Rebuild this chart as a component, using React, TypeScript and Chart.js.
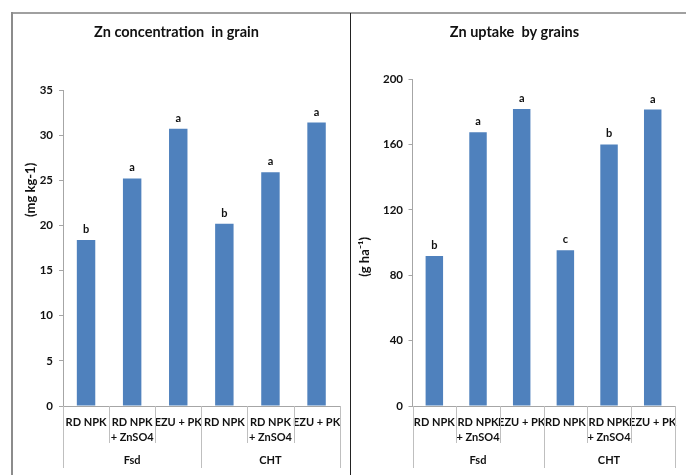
import React, { useEffect, useRef } from 'react';
import { Chart, registerables } from 'chart.js';

Chart.register(...registerables);

// ---- data ----
const categoryLabels: string[][] = [
  ['RD NPK'],
  ['RD NPK', '+ ZnSO4'],
  ['EZU + PK'],
  ['RD NPK'],
  ['RD NPK', '+ ZnSO4'],
  ['EZU + PK'],
];
const groupLabels: string[] = ['Fsd', 'CHT'];
const groupSizes: number[] = [3, 3];

const concTitle = 'Zn concentration  in grain';
const concAxisTitle = '(mg kg-1)';
const concValues: number[] = [18.4, 25.2, 30.7, 20.2, 25.9, 31.4];
const concLetters: string[] = ['b', 'a', 'a', 'b', 'a', 'a'];
const concMax = 35;
const concStep = 5;

const uptakeTitle = 'Zn uptake  by grains';
const uptakeAxisTitle = '(g ha\u207B\u00B9)';
const uptakeValues: number[] = [91.7, 167.5, 181.7, 95.3, 160, 181.3];
const uptakeLetters: string[] = ['b', 'a', 'a', 'c', 'b', 'a'];
const uptakeMax = 200;
const uptakeStep = 40;

const FONT = 'Lato, "Open Sans", sans-serif';
const BAR = '#4F81BD';
const AXIS = '#a6a6a6';

type PanelProps = {
  title: string;
  axisTitle: string;
  values: number[];
  letters: string[];
  max: number;
  step: number;
  width: number;
  height: number;
  chartLeft: number;
  padRight: number;
  chartTop: number;
  axisTitleX: number;
  axisTitleFrac: number;
  tickPad: number;
};

function Panel(p: PanelProps) {
  const ref = useRef<HTMLCanvasElement>(null);
  useEffect(() => {
    const titleLine = 16.8;
    const titleTopPad = 9.6;
    const chartBottom = 392;

    const letterPlugin = {
      id: 'letters',
      afterDatasetsDraw(chart: any) {
        const ctx = chart.ctx;
        const meta = chart.getDatasetMeta(0);
        ctx.save();
        ctx.font = `bold 11px ${FONT}`;
        ctx.fillStyle = '#111';
        ctx.textAlign = 'center';
        ctx.textBaseline = 'alphabetic';
        meta.data.forEach((el: any, i: number) => {
          ctx.fillText(p.letters[i], el.x, el.y - 7);
        });
        ctx.restore();
      },
    };

    const axisTitlePlugin = {
      id: 'yTitle',
      afterDraw(chart: any) {
        const ctx = chart.ctx;
        const a = chart.chartArea;
        const cy = a.top + (a.bottom - a.top) * p.axisTitleFrac;
        ctx.save();
        ctx.translate(p.axisTitleX, cy);
        ctx.rotate(-Math.PI / 2);
        ctx.font = `bold 13px ${FONT}`;
        ctx.fillStyle = '#111';
        ctx.textAlign = 'center';
        ctx.textBaseline = 'middle';
        ctx.fillText(p.axisTitle, 0, 0);
        ctx.restore();
      },
    };

    const groupPlugin = {
      id: 'groups',
      afterDraw(chart: any) {
        const ctx = chart.ctx;
        const x = chart.scales.x;
        const n = categoryLabels.length;
        const top = x.top;
        const bounds: number[] = [];
        for (let i = 0; i <= n; i++) {
          if (i === 0) bounds.push(x.left);
          else if (i === n) bounds.push(x.right);
          else bounds.push((x.getPixelForValue(i - 1) + x.getPixelForValue(i)) / 2);
        }
        const longIdx = new Set<number>();
        let acc = 0;
        longIdx.add(0);
        groupSizes.forEach((s) => {
          acc += s;
          longIdx.add(acc);
        });
        ctx.save();
        ctx.strokeStyle = '#bfbfbf';
        ctx.lineWidth = 1;
        bounds.forEach((bx, i) => {
          const px = Math.round(bx) + 0.5;
          ctx.beginPath();
          ctx.moveTo(px, top);
          ctx.lineTo(px, top + (longIdx.has(i) ? 62 : 37));
          ctx.stroke();
        });
        ctx.font = `bold 11px ${FONT}`;
        ctx.fillStyle = '#111';
        ctx.textAlign = 'center';
        ctx.textBaseline = 'middle';
        let start = 0;
        groupLabels.forEach((g, gi) => {
          const s = groupSizes[gi];
          const cx = (bounds[start] + bounds[start + s]) / 2;
          ctx.fillText(g, cx, top + 54);
          start += s;
        });
        ctx.restore();
      },
    };

    const chart = new Chart(ref.current as HTMLCanvasElement, {
      type: 'bar',
      data: {
        labels: categoryLabels,
        datasets: [
          {
            data: p.values,
            backgroundColor: BAR,
            borderWidth: 0,
            barPercentage: 0.4,
            categoryPercentage: 1,
          },
        ],
      },
      options: {
        responsive: false,
        animation: false,
        layout: { padding: { left: 0, right: p.padRight, top: 0, bottom: 0 } },
        plugins: {
          legend: { display: false },
          tooltip: { enabled: false },
          title: {
            display: true,
            text: p.title,
            color: '#111',
            font: { family: FONT, size: 14.5, weight: 'bold', lineHeight: 1.16 },
            padding: { top: titleTopPad, bottom: p.chartTop - titleTopPad - titleLine },
          },
        },
        scales: {
          x: {
            grid: { display: false, drawTicks: false },
            border: { display: true, color: AXIS, width: 1 },
            ticks: {
              color: '#111',
              font: { family: FONT, size: 11, weight: 'bold', lineHeight: 1.35 },
              padding: 9,
              maxRotation: 0,
              minRotation: 0,
              autoSkip: false,
            },
            afterFit: (scale: any) => {
              scale.height = p.height - chartBottom;
            },
          },
          y: {
            min: 0,
            max: p.max,
            ticks: {
              stepSize: p.step,
              color: '#111',
              font: { family: FONT, size: 11.5, weight: 'bold' },
              padding: p.tickPad,
            },
            grid: { drawOnChartArea: false, drawTicks: true, tickLength: 4, color: AXIS },
            border: { display: true, color: AXIS, width: 1 },
            title: { display: false },
            afterFit: (scale: any) => {
              scale.width = p.chartLeft;
            },
          },
        },
      } as any,
      plugins: [letterPlugin, groupPlugin, axisTitlePlugin],
    });
    return () => chart.destroy();
  }, []);
  return (
    <canvas
      ref={ref}
      width={p.width}
      height={p.height}
      style={{ width: p.width, height: p.height, display: 'block' }}
    />
  );
}

export default function App() {
  return (
    <div
      style={{
        position: 'fixed',
        left: 0,
        top: 0,
        width: 686,
        height: 475,
        background: '#fff',
        overflow: 'hidden',
      }}
    >
      <div style={{ position: 'absolute', left: 11, top: 12, width: 675, height: 2, background: '#a0a0a0' }} />
      <div style={{ position: 'absolute', left: 11, top: 12, width: 2, height: 463, background: '#8c8c8c' }} />
      <div style={{ position: 'absolute', left: 350, top: 13, width: 1, height: 462, background: '#222' }} />
      <div style={{ position: 'absolute', left: 13, top: 14 }}>
        <Panel
          title={concTitle}
          axisTitle={concAxisTitle}
          values={concValues}
          letters={concLetters}
          max={concMax}
          step={concStep}
          width={337}
          height={461}
          chartLeft={50}
          padRight={10}
          chartTop={76}
          axisTitleX={18}
          axisTitleFrac={0.316}
          tickPad={6}
        />
      </div>
      <div style={{ position: 'absolute', left: 351, top: 14 }}>
        <Panel
          title={uptakeTitle}
          axisTitle={uptakeAxisTitle}
          values={uptakeValues}
          letters={uptakeLetters}
          max={uptakeMax}
          step={uptakeStep}
          width={335}
          height={461}
          chartLeft={61.5}
          padRight={8}
          chartTop={65}
          axisTitleX={14}
          axisTitleFrac={0.544}
          tickPad={5.5}
        />
      </div>
    </div>
  );
}
